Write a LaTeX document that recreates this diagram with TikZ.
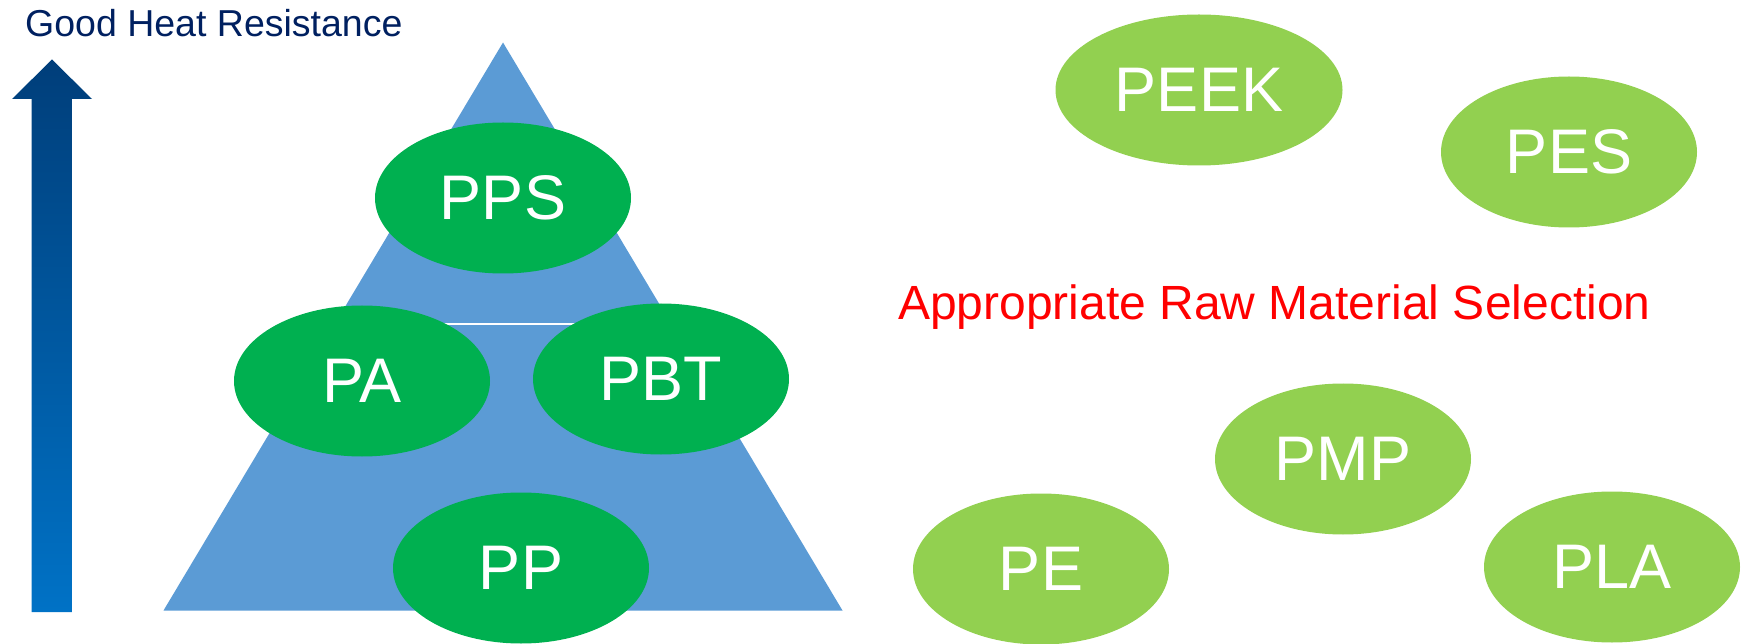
\documentclass[tikz,border=0pt]{standalone}
\usepackage{fontspec}
\setmainfont{Liberation Sans}
\usetikzlibrary{shapes.geometric}
\definecolor{navy}{RGB}{0,32,96}
\definecolor{pyramid}{RGB}{91,155,213}
\definecolor{darkgreen}{RGB}{0,176,80}
\definecolor{lightgreen}{RGB}{146,208,80}
\definecolor{arrowtop}{RGB}{0,62,122}
\definecolor{arrowbottom}{RGB}{0,114,198}
\tikzset{
  polymer/.style={ellipse, minimum width=256pt, minimum height=151pt, inner sep=0pt,
    text=white, font=\fontsize{63}{70}\selectfont},
  engineering/.style={polymer, fill=darkgreen},
  commodity/.style={polymer, fill=lightgreen},
}
\begin{document}
\begin{tikzpicture}[x=1pt,y=-1pt]
\useasboundingbox (0,0) rectangle (1741,644);

% heat resistance arrow with gradient
\shade[top color=arrowtop, bottom color=arrowbottom]
  (31.5,612) -- (31.5,99) -- (12,99) -- (52,59.5) -- (92,99) -- (71.8,99) -- (71.8,612) -- cycle;
\node[anchor=base west, text=navy, font=\fontsize{37.5}{42}\selectfont, inner sep=0pt]
  (title) at (25,36.5) {Good Heat Resistance};

% pyramid
\fill[pyramid] (503,42.5) -- (842.5,610.5) -- (163.5,610.5) -- cycle;
\draw[white, line width=2.5pt] (334,324) -- (671,324);

\node[engineering] (pps) at (503,198) {PPS};
\node[engineering] (pa)  at (362,381) {PA};
\node[engineering] (pbt) at (661,379) {PBT};
\node[engineering] (pp)  at (521,568) {PP};

% other materials
\node[commodity, minimum width=287pt] (peek) at (1199,90) {PEEK};
\node[commodity] (pes) at (1569,152) {PES};
\node[commodity] (pmp) at (1343,459) {PMP};
\node[commodity] (pe)  at (1041,569) {PE};
\node[commodity] (pla) at (1612,567) {PLA};

\node[anchor=base west, text=red, font=\fontsize{48}{54}\selectfont, inner sep=0pt]
  (selection) at (898,320) {Appropriate Raw Material Selection};
\end{tikzpicture}
\end{document}
